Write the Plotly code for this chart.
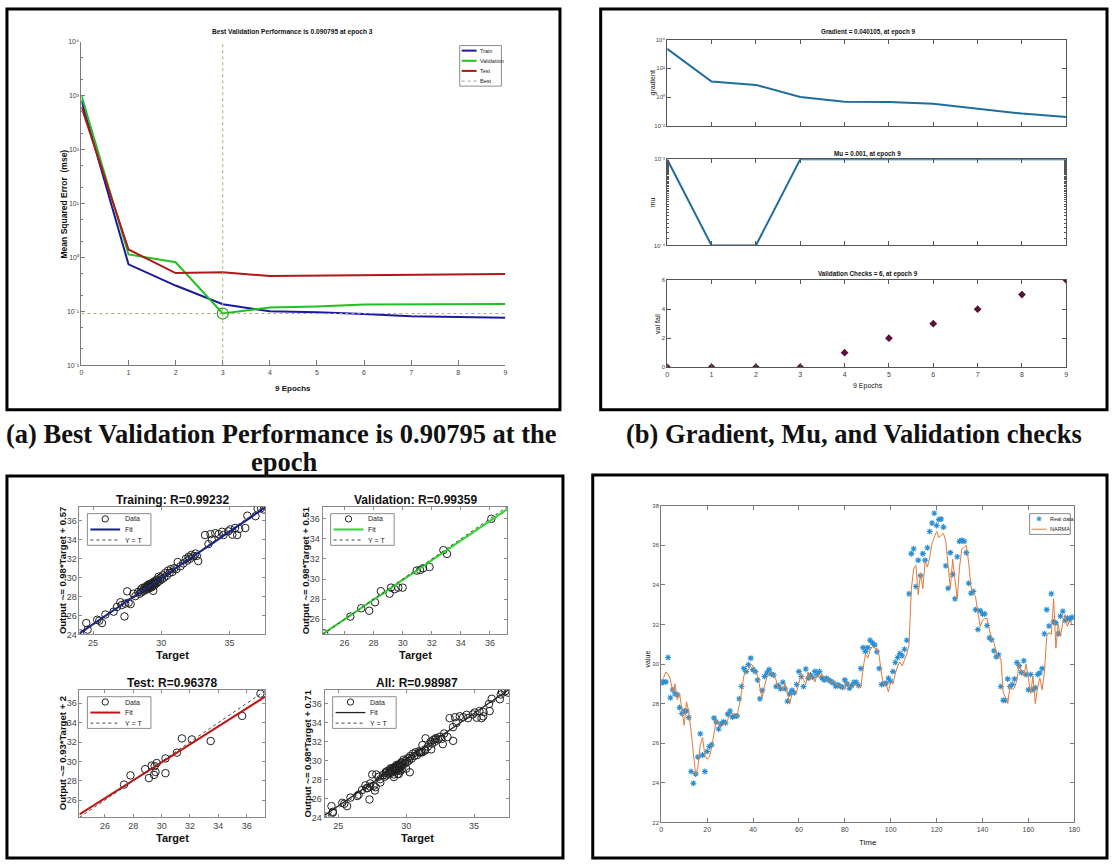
import numpy as np
import plotly.graph_objects as go

W, H = 1116, 866

# ---------------- (a) performance ----------------
EPOCHS = [0, 1, 2, 3, 4, 5, 6, 7, 8, 9]
PERF_TRAIN = [810, 0.74, 0.30, 0.135, 0.100, 0.096, 0.089, 0.081, 0.078, 0.076]
PERF_VAL = [1000, 1.13, 0.81, 0.090795, 0.118, 0.123, 0.134, 0.135, 0.135, 0.136]
PERF_TEST = [615, 1.40, 0.51, 0.53, 0.45, 0.46, 0.47, 0.475, 0.48, 0.49]
BEST_EPOCH = 3
BEST_PERF = 0.090795

# ---------------- (b) training state ----------------
GRADIENT = [2300, 12, 7, 1.0, 0.47, 0.45, 0.34, 0.15, 0.07, 0.040105]
MU = [1e-3, 1e-4, 1e-4, 1e-3, 1e-3, 1e-3, 1e-3, 1e-3, 1e-3, 1e-3]
VAL_FAIL = [0, 0, 0, 0, 1, 2, 3, 4, 5, 6]

# ---------------- (c) regression ----------------
TRAIN_T = [24.05, 24.5, 24.6, 25.3, 25.45, 25.65, 25.9, 26.5, 26.75, 27.0, 27.1, 27.3, 27.35, 27.5,
           27.6, 27.75, 27.95, 28.1, 28.3, 28.4, 28.5, 28.55, 28.6, 28.7, 28.75, 28.8, 28.85, 28.9,
           28.95, 29.0, 29.0, 29.05, 29.1, 29.1, 29.15, 29.2, 29.2, 29.25, 29.3, 29.3, 29.35, 29.4,
           29.4, 29.45, 29.5, 29.5, 29.55, 29.6, 29.65, 29.7, 29.75, 29.8, 29.9, 29.95, 30.05, 30.1,
           30.2, 30.3, 30.4, 30.5, 30.6, 30.7, 30.8, 30.95, 31.1, 31.2, 31.4, 31.6, 31.8, 31.9, 32.0,
           32.1, 32.2, 32.35, 32.5, 32.6, 32.7, 33.2, 33.45, 33.6, 33.7, 33.95, 34.2, 34.45, 34.55,
           34.9, 35.05, 35.2, 35.4, 35.55, 35.7, 36.15, 36.3, 36.9, 37.05, 37.3, 37.5]
TRAIN_O = [24.1, 25.2, 24.5, 25.55, 25.45, 25.2, 26.1, 26.4, 26.9, 27.4, 27.1, 25.9, 27.25, 28.55,
           27.35, 27.2, 28.3, 28.05, 28.5, 28.3, 28.7, 28.45, 28.9, 28.6, 28.8, 29.0, 28.7, 28.95,
           29.1, 28.8, 29.2, 29.0, 28.9, 29.3, 29.1, 28.95, 29.35, 29.15, 29.0, 29.4, 29.25, 28.6,
           29.5, 29.3, 29.2, 29.6, 29.45, 29.7, 29.4, 29.8, 29.55, 30.1, 29.7, 30.0, 29.85, 30.25,
           30.0, 30.5, 30.2, 30.75, 30.5, 30.9, 30.6, 31.0, 30.9, 31.65, 31.2, 31.5, 32.0, 31.8, 32.2,
           32.0, 32.4, 32.25, 32.55, 32.3, 31.75, 34.5, 33.55, 34.6, 34.0, 34.7, 34.6, 34.85, 34.5,
           34.9, 35.1, 34.55, 35.25, 34.5, 35.15, 35.25, 36.55, 36.5, 37.3, 37.35, 37.2]
VAL_T = [24.6, 26.4, 27.15, 27.7, 28.1, 28.5, 29.1, 29.2, 29.45, 29.7, 30.0, 30.97, 31.2, 31.4,
         31.85, 32.8, 33.05, 36.1]
VAL_O = [24.6, 26.27, 27.1, 26.85, 27.7, 28.8, 28.55, 29.15, 29.0, 29.15, 29.15, 30.85, 30.9, 31.07,
         31.2, 32.88, 32.5, 36.0]
TEST_T = [27.35, 27.8, 28.84, 29.1, 29.3, 29.46, 29.5, 29.65, 29.57, 30.27, 30.27, 31.08, 31.43,
          32.13, 33.46, 35.68, 36.97]
TEST_O = [27.6, 28.55, 29.2, 28.27, 29.56, 28.6, 29.5, 29.83, 28.9, 30.3, 28.78, 30.9, 32.37,
          32.27, 32.1, 34.7, 37.0]
FIT = {"train": (0.98, 0.57), "val": (0.98, 0.51), "test": (0.93, 2.0), "all": (0.98, 0.71)}
R_VALUES = {"train": "0.99232", "val": "0.99359", "test": "0.96378", "all": "0.98987"}

# ---------------- (d) time series ----------------
REAL = [29.05, 29.1, 29.1, 30.33, 28.3, 28.7, 28.5, 28.45, 27.8, 27.5, 27.63, 27.63, 27.3, 24.57,
        23.98, 24.45, 25.3, 26.48, 25.4, 24.57, 25.58, 25.83, 25.92, 27.28, 27.08, 26.72, 26.97,
        27.08, 27.03, 27.47, 27.63, 27.33, 27.37, 27.38, 28.25, 28.87, 29.78, 29.62, 29.97, 30.3,
        29.72, 29.62, 29.2, 28.25, 28.67, 29.37, 29.55, 29.72, 29.5, 29.45, 28.87, 28.92, 28.75,
        29.08, 28.75, 28.12, 28.5, 28.67, 28.55, 28.97, 29.62, 29.37, 28.87, 29.75, 29.28, 29.45,
        29.33, 29.63, 29.47, 29.62, 29.3, 29.2, 29.28, 29.2, 29.12, 29.05, 28.88, 28.95, 28.88,
        28.83, 29.2, 29.0, 28.78, 28.92, 29.08, 29.08, 28.92, 29.78, 30.83, 30.63, 30.83, 31.2,
        31.08, 30.97, 30.62, 29.78, 28.97, 29.0, 29.03, 29.28, 29.13, 29.62, 30.08, 30.33, 30.53,
        30.42, 30.75, 31.2, 33.55, 35.58, 35.83, 33.92, 35.25, 34.47, 35.58, 35.25, 35.88, 36.7,
        37.13, 37.62, 37.0, 37.3, 37.33, 36.92, 34.97, 33.83, 35.63, 34.53, 33.3, 35.42, 36.2,
        36.25, 36.2, 35.63, 34.08, 33.58, 33.67, 32.75, 31.75, 32.7, 32.53, 32.53, 31.95, 31.33,
        31.23, 30.67, 30.37, 30.47, 28.87, 28.17, 28.17, 29.25, 28.87, 28.97, 29.25, 30.08, 29.92,
        29.58, 30.17, 29.47, 28.7, 29.47, 28.7, 28.8, 29.47, 29.55, 29.78, 31.53, 32.75, 31.92,
        33.55, 32.13, 32.08, 31.53, 32.42, 32.67, 32.2, 32.33, 32.25, 32.37]
NARMA = [29.2, 29.3, 29.6, 29.5, 29.2, 28.6, 29.0, 28.2, 28.5, 27.6, 26.9, 28.1, 27.6, 26.6, 25.4,
         24.4, 24.8, 25.9, 26.3, 25.4, 25.2, 25.3, 25.8, 26.4, 27.2, 26.9, 26.8, 27.0, 27.0, 27.2,
         27.5, 27.5, 27.4, 27.4, 27.9, 28.6, 29.4, 29.6, 29.7, 30.0, 29.9, 29.6, 29.4, 28.8, 28.3,
         28.9, 29.3, 29.5, 29.6, 29.4, 29.2, 28.8, 28.9, 28.7, 29.0, 28.5, 28.0, 28.5, 28.6, 28.6,
         29.0, 29.5, 29.2, 29.0, 29.6, 29.2, 29.4, 29.1, 29.5, 29.3, 29.5, 29.3, 29.2, 29.2, 29.1,
         29.1, 29.0, 28.9, 28.9, 28.8, 28.7, 29.1, 28.9, 28.8, 28.9, 29.0, 28.9, 28.8, 29.8, 30.5,
         30.3, 30.7, 30.9, 30.8, 30.8, 30.4, 29.5, 28.9, 29.0, 28.6, 29.1, 29.0, 29.5, 29.9, 30.1,
         29.9, 30.2, 30.5, 31.0, 33.8, 34.8, 35.0, 33.5, 34.6, 33.8, 35.2, 34.9, 35.4, 36.1, 36.4,
         36.7, 36.4, 36.5, 36.6, 36.2, 34.8, 33.8, 35.3, 34.2, 33.3, 34.9, 35.8, 35.9, 36.0, 35.1,
         33.9, 33.6, 33.4, 32.6, 31.9, 32.2, 32.3, 32.3, 31.8, 31.2, 31.1, 30.6, 30.3, 30.3, 28.6,
         28.3, 28.0, 28.9, 28.7, 28.8, 29.2, 30.0, 29.6, 29.4, 30.0, 29.3, 28.5, 29.4, 28.0, 28.8,
         29.3, 28.7, 29.6, 31.4, 31.6, 31.5, 33.3, 30.8, 32.0, 31.4, 32.1, 32.5, 31.9, 32.2, 32.0]
TIME = list(range(len(REAL)))

# ---------------- helpers ----------------
FN = "Liberation Sans Narrow, Arial Narrow, Liberation Sans, Arial, sans-serif"
FS = "Liberation Sans, Arial, sans-serif"
FSERIF = "Liberation Serif, Times New Roman, serif"

C_TRAIN, C_VAL, C_TEST, C_BEST = "#1a1a9c", "#22c022", "#b01818", "#a8b070"
C_BLUE = "#1f6d9c"
C_STAR = "#2a8fd4"
C_NARMA = "#e07b39"

SUPS = {"0": "\u2070", "1": "\u00b9", "2": "\u00b2", "3": "\u00b3", "4": "\u2074", "-": "\u207b"}


def dx(x0, x1):
    return [x0 / W, x1 / W]


def dy(y0, y1):
    return [1 - y1 / H, 1 - y0 / H]


def axis(domain, rng, anchor, color="#7a7a7a", fsize=7, family=FN, **kw):
    d = dict(domain=domain, range=rng, anchor=anchor, showgrid=False, zeroline=False,
             showline=True, linecolor=color, linewidth=1, ticks="inside", ticklen=4,
             tickcolor=color, tickfont=dict(size=fsize, color="#444444", family=family))
    d.update(kw)
    return d


def sup(e):
    return "10" + "".join(SUPS[c] for c in str(e))


fig = go.Figure()
annotations = []
shapes = []


def text(x, y, s, size=8, bold=False, family=FN, angle=0, color="#111111", xanchor="center"):
    annotations.append(dict(x=x / W, y=1 - y / H, xref="paper", yref="paper", text=s,
                            showarrow=False, textangle=angle, xanchor=xanchor, yanchor="middle",
                            font=dict(size=size, family=family, color=color,
                                      weight="bold" if bold else "normal")))


def pline(x0, y0, x1, y1, color, width=1, dash="solid"):
    shapes.append(dict(type="line", xref="paper", yref="paper", x0=x0 / W, x1=x1 / W,
                       y0=1 - y0 / H, y1=1 - y1 / H, line=dict(color=color, width=width, dash=dash)))


def box(x0, y0, x1, y1, color="black", width=3, fill=None):
    d = dict(type="rect", xref="paper", yref="paper", x0=x0 / W, x1=x1 / W,
             y0=1 - y1 / H, y1=1 - y0 / H, line=dict(color=color, width=width))
    if fill:
        d["fillcolor"] = fill
    shapes.append(d)


def legend(x0, y0, w, h, entries, fsize, l0, l1, tdx):
    box(x0, y0, x0 + w, y0 + h, color="#8c8c8c", width=1, fill="white")
    n = len(entries)
    for i, (label, kind, color, width, dash) in enumerate(entries):
        yc = y0 + h * (i + 0.5) / n
        xc = x0 + (l0 + l1) / 2
        if kind == "line":
            pline(x0 + l0, yc, x0 + l1, yc, color, width, dash)
        elif kind == "circle":
            r = 3.2
            shapes.append(dict(type="circle", xref="paper", yref="paper", x0=(xc - r) / W,
                               x1=(xc + r) / W, y0=1 - (yc + r) / H, y1=1 - (yc - r) / H,
                               line=dict(color=color, width=1)))
        elif kind == "star":
            r = 2.5
            pline(xc - r, yc, xc + r, yc, color, 1.2)
            pline(xc, yc - r, xc, yc + r, color, 1.2)
            pline(xc - r * 0.7, yc - r * 0.7, xc + r * 0.7, yc + r * 0.7, color, 1)
            pline(xc - r * 0.7, yc + r * 0.7, xc + r * 0.7, yc - r * 0.7, color, 1)
        text(x0 + tdx, yc, label, size=fsize, family=FS, xanchor="left", color="#222222")


# ---------------- panel (a) ----------------
fig.add_trace(go.Scatter(x=EPOCHS, y=PERF_TRAIN, mode="lines", name="Train",
                         line=dict(color=C_TRAIN, width=2), xaxis="x", yaxis="y"))
fig.add_trace(go.Scatter(x=EPOCHS, y=PERF_VAL, mode="lines", name="Validation",
                         line=dict(color=C_VAL, width=2), xaxis="x", yaxis="y"))
fig.add_trace(go.Scatter(x=EPOCHS, y=PERF_TEST, mode="lines", name="Test",
                         line=dict(color=C_TEST, width=2), xaxis="x", yaxis="y"))
fig.add_trace(go.Scatter(x=[BEST_EPOCH, BEST_EPOCH, None, EPOCHS[0], EPOCHS[-1]],
                         y=[1e-2, 1e4, None, BEST_PERF, BEST_PERF], mode="lines", name="Best",
                         line=dict(color=C_BEST, width=1, dash="dot"), xaxis="x", yaxis="y"))
fig.add_trace(go.Scatter(x=[BEST_EPOCH], y=[BEST_PERF], mode="markers",
                         marker=dict(symbol="circle-open", size=11, color="#22a022", line=dict(width=1.2)),
                         xaxis="x", yaxis="y"))

# ---------------- panel (b) ----------------
fig.add_trace(go.Scatter(x=EPOCHS, y=GRADIENT, mode="lines",
                         line=dict(color=C_BLUE, width=2), xaxis="x2", yaxis="y2"))
fig.add_trace(go.Scatter(x=EPOCHS, y=MU, mode="lines",
                         line=dict(color=C_BLUE, width=2), xaxis="x3", yaxis="y3"))
fig.add_trace(go.Scatter(x=EPOCHS, y=VAL_FAIL, mode="markers",
                         marker=dict(symbol="diamond", size=6, color="#5a1238"), xaxis="x4", yaxis="y4"))

# ---------------- panel (c) ----------------
ALL_T = TRAIN_T + VAL_T + TEST_T
ALL_O = TRAIN_O + VAL_O + TEST_O
REG = [
    ("train", TRAIN_T, TRAIN_O, "#14208c", 2.0, [24.0, 37.6], [24.0, 37.5], "x5", "y5"),
    ("val", VAL_T, VAL_O, "#2fd62f", 2.0, [24.5, 37.2], [24.5, 37.2], "x6", "y6"),
    ("test", TEST_T, TEST_O, "#c01414", 2.0, [24.2, 37.3], [24.2, 37.4], "x7", "y7"),
    ("all", ALL_T, ALL_O, "#222222", 1.3, [24.0, 37.6], [24.0, 37.5], "x8", "y8"),
]
for key, tx, oy, col, lw, xr, yr, xa, ya in REG:
    fig.add_trace(go.Scatter(x=tx, y=oy, mode="markers", name="Data",
                             marker=dict(symbol="circle-open", size=7.5, color="#222222", line=dict(width=1)),
                             xaxis=xa, yaxis=ya))
    a, b = FIT[key]
    xl = np.array(xr)
    fig.add_trace(go.Scatter(x=xl, y=a * xl + b, mode="lines", name="Fit",
                             line=dict(color=col, width=lw), xaxis=xa, yaxis=ya))
    fig.add_trace(go.Scatter(x=xl, y=xl, mode="lines", name="Y = T",
                             line=dict(color="#444444", width=1, dash="dot"), xaxis=xa, yaxis=ya))

# ---------------- panel (d) ----------------
fig.add_trace(go.Scatter(x=TIME, y=REAL, mode="markers", name="Real data",
                         marker=dict(symbol="asterisk-open", size=5, color=C_STAR,
                                     line=dict(width=1.1, color=C_STAR)),
                         xaxis="x9", yaxis="y9"))
fig.add_trace(go.Scatter(x=TIME, y=NARMA, mode="lines", name="NARMA",
                         line=dict(color=C_NARMA, width=1), xaxis="x9", yaxis="y9"))

# ---------------- layout ----------------
lay = dict(width=W, height=H, margin=dict(l=0, r=0, t=0, b=0), paper_bgcolor="white",
           plot_bgcolor="white", showlegend=False)

# (a)
lay["xaxis"] = axis(dx(80, 507), [0, 9], "y", tickvals=EPOCHS, ticklen=5)
lay["yaxis"] = axis(dy(38, 365), [-2, 4], "x", type="log",
                    tickvals=[10.0 ** e for e in range(-2, 5)], ticktext=[sup(e) for e in range(-2, 5)],
                    minor=dict(ticks="inside", ticklen=2, tickcolor="#7a7a7a"))
# (b)
PX0, PX1 = 670, 1072
lay["xaxis2"] = axis(dx(PX0, PX1), [0, 9], "y2", tickvals=EPOCHS, showticklabels=False, mirror="ticks",
                     color="#555555")
lay["yaxis2"] = axis(dy(36, 123), [-2, 4], "x2", type="log", mirror="ticks", color="#555555",
                     tickvals=[1e-2, 1, 1e2, 1e4], ticktext=[sup(-2), sup(0), sup(2), sup(4)], fsize=6)
lay["xaxis3"] = axis(dx(PX0, PX1), [0, 9], "y3", tickvals=EPOCHS, showticklabels=False, mirror="ticks",
                     color="#555555")
lay["yaxis3"] = axis(dy(157, 244), [-4, -3], "x3", type="log", mirror="ticks", color="#555555",
                     tickvals=[1e-4, 1e-3], ticktext=[sup(-4), sup(-3)], fsize=6,
                     minor=dict(ticks="inside", ticklen=2, tickcolor="#555555"))
lay["xaxis4"] = axis(dx(PX0, PX1), [0, 9], "y4", tickvals=EPOCHS, mirror="ticks", color="#555555", fsize=7)
lay["yaxis4"] = axis(dy(279, 367), [0, 6], "x4", tickvals=[0, 2, 4, 6], mirror="ticks", color="#555555", fsize=6)
# (c)
C_POS = {"x5": (78, 265, 508, 637), "x6": (323, 509, 508, 637),
         "x7": (78, 265, 693, 822), "x8": (325, 511, 693, 822)}
TICKS = {"x5": ([25, 30, 35], [24, 26, 28, 30, 32, 34, 36]),
         "x6": ([26, 28, 30, 32, 34, 36], [26, 28, 30, 32, 34, 36]),
         "x7": ([26, 28, 30, 32, 34, 36], [26, 28, 30, 32, 34, 36]),
         "x8": ([25, 30, 35], [24, 26, 28, 30, 32, 34, 36])}
for key, tx, oy, col, lw, xr, yr, xa, ya in REG:
    x0, x1, y0, y1 = C_POS[xa]
    n = xa[1:]
    lay["xaxis" + n] = axis(dx(x0, x1), xr, "y" + n, tickvals=TICKS[xa][0], mirror="ticks",
                            color="#8a8a8a", fsize=9, family=FS, ticklen=3)
    lay["yaxis" + n] = axis(dy(y0, y1), yr, "x" + n, tickvals=TICKS[xa][1], mirror="ticks",
                            color="#8a8a8a", fsize=9, family=FS, ticklen=3)
# (d)
lay["xaxis9"] = axis(dx(664, 1080), [0, 180], "y9", dtick=20, mirror="ticks", color="#7a7a7a", fsize=7)
lay["yaxis9"] = axis(dy(507, 827), [22, 38], "x9", dtick=2, mirror="ticks", color="#7a7a7a", fsize=6)

# ---------------- legends (drawn) ----------------
legend(461, 42, 42, 41, [("Train", "line", C_TRAIN, 2, "solid"),
                         ("Validation", "line", C_VAL, 2, "solid"),
                         ("Test", "line", C_TEST, 2, "solid"),
                         ("Best", "line", "#a0a0a0", 1, "dot")], 5.5, 2, 17, 18)
for key, tx, oy, col, lw, xr, yr, xa, ya in REG:
    x0, x1, y0, y1 = C_POS[xa]
    legend(x0 + 8, y0 + 7, 64, 32, [("Data", "circle", "#222222", 1, "solid"),
                                    ("Fit", "line", col, lw, "solid"),
                                    ("Y = T", "line", "#444444", 1, "dot")], 7, 3, 33, 36)
legend(1035, 515, 41, 21, [("Real data", "star", C_STAR, 1, "solid"),
                           ("NARMA", "line", C_NARMA, 1, "solid")], 5.5, 2, 17, 19)

# ---------------- texts ----------------
text(293, 28, "Best Validation Performance is 0.090795 at epoch 3", size=6.6, bold=True)
text(293, 389, "9 Epochs", size=8, bold=True)
text(62, 202, "Mean Squared Error  (mse)", size=8.5, bold=True, angle=-90)

text(872, 28, "Gradient = 0.040105, at epoch 9", size=6.3, bold=True)
text(872, 152, "Mu = 0.001, at epoch 9", size=6.3, bold=True)
text(872, 273, "Validation Checks = 6, at epoch 9", size=6.3, bold=True)
text(872, 386, "9 Epochs", size=7)
text(656, 80, "gradient", size=7, angle=-90)
text(656, 200, "mu", size=7, angle=-90)
text(660, 323, "val fail", size=7, angle=-90)

TITLES = {"x5": "Training: R=", "x6": "Validation: R=", "x7": "Test: R=", "x8": "All: R="}
YLAB = {"x5": "Output ~= 0.98*Target + 0.57", "x6": "Output ~= 0.98*Target + 0.51",
        "x7": "Output ~= 0.93*Target + 2", "x8": "Output ~= 0.98*Target + 0.71"}
for key, tx, oy, col, lw, xr, yr, xa, ya in REG:
    x0, x1, y0, y1 = C_POS[xa]
    cx = (x0 + x1) / 2
    text(cx, y0 - 7, TITLES[xa] + R_VALUES[key], size=12, bold=True, family=FS)
    text(cx, y1 + 21, "Target", size=11, bold=True, family=FS)
    text(x0 - 17, (y0 + y1) / 2, YLAB[xa], size=9.5, bold=True, angle=-90)

text(872, 847, "Time", size=8)
text(650, 662, "value", size=7, angle=-90)

# captions
text(282, 435, "(a) Best Validation Performance is 0.90795 at the", size=26.5, bold=True, family=FSERIF)
text(285, 463, "epoch", size=26.5, bold=True, family=FSERIF)
text(858, 435, "(b) Gradient, Mu, and Validation checks", size=26.5, bold=True, family=FSERIF)

# panel frames
box(5, 5, 562, 410)
box(603, 5, 1113, 410)
box(5, 477, 565, 863)
box(595, 476, 1113, 863)

lay["annotations"] = annotations
lay["shapes"] = shapes
fig.update_layout(**lay)
fig.write_html("out.html")
